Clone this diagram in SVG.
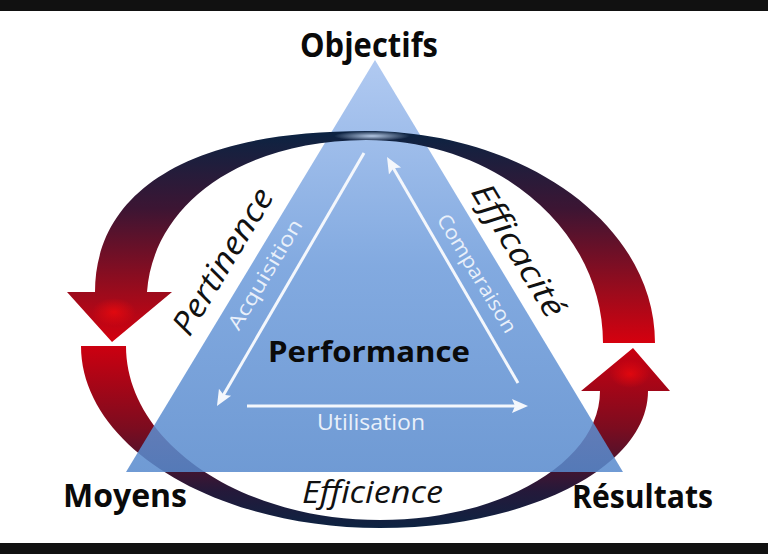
<svg xmlns="http://www.w3.org/2000/svg" width="768" height="554" viewBox="0 0 768 554">
<defs>
<style>
.t{font-family:"Open Sans","Liberation Sans",sans-serif;}
.b{font-weight:700;fill:#0a0a0a;}
.i{font-style:italic;fill:#111;}
.w{fill:#e9f0fa;}
.wl{stroke:#f4f7fc;stroke-width:3;fill:none;}
</style>
<linearGradient id="gUp" gradientUnits="userSpaceOnUse" x1="0" y1="135" x2="0" y2="345">
<stop offset="0" stop-color="#0d2342"/>
<stop offset="0.35" stop-color="#3c1533"/>
<stop offset="0.75" stop-color="#9c0b1c"/>
<stop offset="1" stop-color="#d8000e"/>
</linearGradient>
<linearGradient id="gLow" gradientUnits="userSpaceOnUse" x1="0" y1="346" x2="0" y2="528">
<stop offset="0" stop-color="#cc0010"/>
<stop offset="0.45" stop-color="#7c0c1f"/>
<stop offset="0.8" stop-color="#24193a"/>
<stop offset="1" stop-color="#0d2342"/>
</linearGradient>
<linearGradient id="gTri" gradientUnits="userSpaceOnUse" x1="0" y1="60" x2="0" y2="472">
<stop offset="0" stop-color="#a4c1ef"/>
<stop offset="0.5" stop-color="#6e9cdb"/>
<stop offset="1" stop-color="#588acd"/>
</linearGradient>
<radialGradient id="gHead">
<stop offset="0" stop-color="#ff0a0a" stop-opacity="0.6"/>
<stop offset="1" stop-color="#ff0a0a" stop-opacity="0"/>
</radialGradient>
<radialGradient id="gShine">
<stop offset="0" stop-color="#c9dcf7" stop-opacity="0.9"/>
<stop offset="1" stop-color="#c9dcf7" stop-opacity="0"/>
</radialGradient>
<marker id="ah" markerUnits="userSpaceOnUse" markerWidth="18" markerHeight="16" refX="6" refY="8" orient="auto">
<path d="M0,1 L16,8 L0,15 L3,8 Z" fill="#f4f7fc"/>
</marker>
</defs>

<rect x="0" y="0" width="768" height="554" fill="#ffffff"/>
<rect x="0" y="0" width="768" height="11" fill="#111111"/>
<rect x="0" y="543" width="768" height="11" fill="#111111"/>

<g id="cycle-lower">
<path d="M81,346 C81,446 215,528 380,528 C528,528 648,467 648,391 L670,391 L633,348 L581,391 L600,391 C600,462 501,520 380,520 C240,520 126,442 126,346 Z" fill="url(#gLow)"/>
<ellipse cx="630" cy="374" rx="20" ry="14" fill="url(#gHead)"/>
</g>

<g id="node-performance">
<path d="M375,60 L623,472 L126,472 Z" fill="url(#gTri)" opacity="0.86"/>
<text class="t b" x="268" y="362" font-size="29" textLength="202" lengthAdjust="spacingAndGlyphs" fill="#0b1326">Performance</text>
</g>

<g id="cycle-upper">
<path d="M655,343 C655,222 520,131 366,131 C175,131 95,200 95,292 L67,292 L112,342 L172,292 L147,292 C153,208 235,141 366,140 C497,140 603,230 603,343 Z" fill="url(#gUp)"/>
<ellipse cx="114" cy="312" rx="22" ry="14" fill="url(#gHead)"/>
<ellipse cx="372" cy="136" rx="38" ry="5" fill="url(#gShine)"/>
</g>

<g id="connectors">
<line class="wl" x1="364" y1="153" x2="222" y2="397.4" marker-end="url(#ah)"/>
<line class="wl" x1="518" y1="383" x2="392" y2="165.7" marker-end="url(#ah)"/>
<line class="wl" x1="247" y1="406" x2="518" y2="406" marker-end="url(#ah)"/>
</g>

<g id="label-acquisition">
<text class="t w" transform="translate(271,278) rotate(-58.9)" x="0" y="0" font-size="20" text-anchor="middle" textLength="125" lengthAdjust="spacingAndGlyphs">Acquisition</text>
</g>
<g id="label-comparaison">
<text class="t w" transform="translate(471,277) rotate(58.9)" x="0" y="0" font-size="20" text-anchor="middle" textLength="135" lengthAdjust="spacingAndGlyphs">Comparaison</text>
</g>
<g id="label-utilisation">
<text class="t w" x="317" y="430" font-size="21" textLength="108" lengthAdjust="spacingAndGlyphs">Utilisation</text>
</g>

<g id="label-pertinence">
<text class="t i" transform="translate(232,267) rotate(-58.9)" x="0" y="0" font-size="32" text-anchor="middle" textLength="165" lengthAdjust="spacingAndGlyphs">Pertinence</text>
</g>
<g id="label-efficacite">
<text class="t i" transform="translate(509,256) rotate(58.9)" x="0" y="0" font-size="32" text-anchor="middle" textLength="150" lengthAdjust="spacingAndGlyphs">Efficacité</text>
</g>
<g id="label-efficience">
<text class="t i" x="302" y="503" font-size="31" textLength="141" lengthAdjust="spacingAndGlyphs">Efficience</text>
</g>

<g id="node-objectifs">
<text class="t b" x="300" y="57" font-size="34" textLength="138" lengthAdjust="spacingAndGlyphs">Objectifs</text>
</g>
<g id="node-moyens">
<text class="t b" x="63" y="507" font-size="32" textLength="124" lengthAdjust="spacingAndGlyphs">Moyens</text>
</g>
<g id="node-resultats">
<text class="t b" x="572" y="508" font-size="32" textLength="141" lengthAdjust="spacingAndGlyphs">Résultats</text>
</g>
</svg>
